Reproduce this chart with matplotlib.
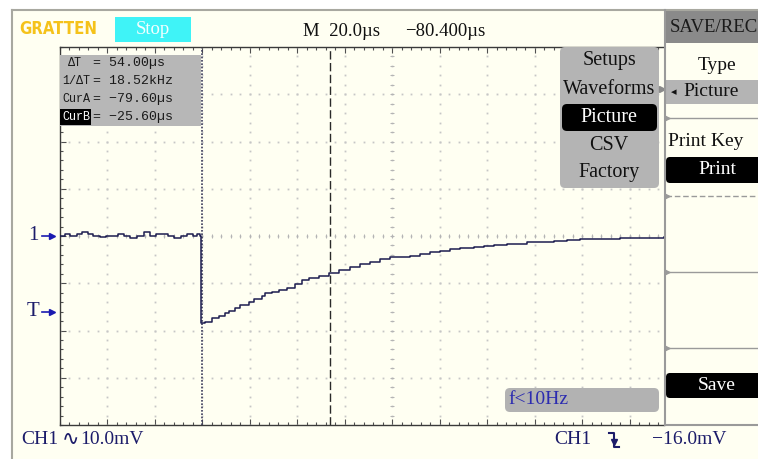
import matplotlib
matplotlib.use('Agg')
import matplotlib.pyplot as plt
import numpy as np
from matplotlib.patches import Rectangle, FancyBboxPatch
from matplotlib.ticker import FixedLocator
import matplotlib.transforms as mtransforms

# CH1 trace: time in us, level in mV
base_t = [-139.6, -137.2, -135.0, -132.4, -130.2, -127.8, -125.4, -122.6, -120.0, -117.4,
          -115.0, -112.6, -109.8, -107.0, -104.2, -101.6, -99.0, -96.4, -93.8, -91.2,
          -88.6, -86.0, -83.4, -81.6, -80.3]
base_v = [0.0, 0.4, 0.0, 0.4, 0.8, 0.4, 0.0, -0.2, 0.0, 0.0,
          0.4, 0.0, -0.4, 0.0, 0.8, 0.0, 0.4, 0.4, 0.0, -0.4,
          0.0, 0.4, 0.0, 0.4, 0.0]
decay_t = [-79.9, -78.2, -75.4, -72.6, -69.8, -68.4, -65.6, -63.5, -60.0, -57.9,
           -54.3, -52.9, -50.1, -47.4, -43.8, -40.3, -37.5, -34.7, -30.5, -26.3,
           -22.1, -17.2, -13.0, -8.8, -4.6, -0.4, 3.9, 8.1, 12.3, 16.5,
           20.7, 24.9, 29.1, 34.7, 38.9, 43.1, 48.8, 51.5, 57.2, 62.8,
           68.4, 74.0, 79.6, 85.2, 90.9, 96.4, 102.1, 107.7, 114.7]
decay_v = [-18.5, -18.1, -17.4, -16.9, -16.4, -15.9, -15.3, -14.6, -13.9, -13.4,
           -12.8, -12.1, -11.8, -11.4, -10.9, -10.2, -9.3, -8.8, -8.5, -7.9,
           -7.3, -6.5, -5.9, -5.4, -4.9, -4.5, -4.4, -4.2, -3.8, -3.4,
           -3.2, -2.8, -2.6, -2.3, -2.1, -1.9, -1.7, -1.7, -1.3, -1.2,
           -1.0, -0.8, -0.7, -0.6, -0.6, -0.5, -0.4, -0.4, -0.2]

time_div = 20.0     # us/div
volt_div = 10.0     # mV/div
h_pos = -80.4       # us
cursor_a = -79.6    # us
cursor_b = -25.6    # us
trig_level = -16.0  # mV
menu_items = ['Setups', 'Waveforms', 'Picture', 'CSV', 'Factory']
selected = 'Picture'

W, H = 758, 459
cream = '#fffff2'
navy = '#1c1c6a'
grey_box = '#b7b7b7'
serif = ['Liberation Serif', 'DejaVu Sans']
mono = ['Liberation Mono', 'DejaVu Sans Mono']


def minus(s):
    return s.replace('-', '\u2212')


fig = plt.figure(figsize=(W / 100, H / 100), dpi=100)
fig.patch.set_facecolor(cream)

# scope screen: 59.5..664 px across, 47..425 px down
ax = fig.add_axes([59.5 / W, (H - 425) / H, 604.5 / W, 378 / H], zorder=1)
ax.set_facecolor(cream)
px_per_us = 2.376
t_left = cursor_a - 3 * time_div
t_right = t_left + 604.5 / px_per_us
ax.set_xlim(t_left, t_right)
ax.set_ylim(-4 * volt_div, 4 * volt_div)

grid_t = cursor_a + time_div * np.arange(-2, 10)
grid_v = volt_div * np.arange(-3, 4)
minor_t = np.arange(t_left, t_right, time_div / 5)
minor_v = np.arange(-4 * volt_div, 4 * volt_div + 0.1, volt_div / 5)

for gt in grid_t:
    ax.plot(np.full(minor_v.size, gt), minor_v, ls='none', marker='s', ms=1.3, mew=0, color='#c6c6c6')
for gv in grid_v:
    ax.plot(minor_t, np.full(minor_t.size, gv), ls='none', marker='s', ms=1.3, mew=0, color='#c6c6c6')
# centre axes carry small ticks
ax.plot(minor_t, np.zeros(minor_t.size), ls='none', marker='|', ms=3.5, mew=0.7, color='#b4b4b4')
ax.plot(np.full(minor_v.size, cursor_a + 4 * time_div), minor_v, ls='none', marker='_', ms=3.5, mew=0.7, color='#b4b4b4')

ax.xaxis.set_major_locator(FixedLocator(grid_t))
ax.xaxis.set_minor_locator(FixedLocator(minor_t))
ax.yaxis.set_major_locator(FixedLocator(grid_v))
ax.yaxis.set_minor_locator(FixedLocator(minor_v))
ax.tick_params(which='both', direction='in', top=True, right=False,
               labelbottom=False, labelleft=False, color='#505050', width=0.8)
ax.tick_params(which='major', length=4)
ax.tick_params(which='minor', length=2.5)
for s in ax.spines.values():
    s.set_color('#3a3a3a')
    s.set_linewidth(1)
ax.spines['right'].set_visible(False)

# cursors and trace
ax.axvline(cursor_a, color='#3c3c5c', lw=1.2, ls=(0, (1, 1)), zorder=2)
ax.axvline(cursor_b, color='#2a2a2a', lw=1.0, ls=(0, (6, 2.5)), zorder=2)
ax.plot(base_t + decay_t, base_v + decay_v, drawstyle='steps-post', color='#1d1d50', lw=1.1, zorder=3)

# overlay in pixel coordinates for the scope's menus and readouts
ov = fig.add_axes([0, 0, 1, 1], zorder=2)
ov.set_autoscale_on(False)
ov.set_xlim(0, W)
ov.set_ylim(H, 0)
ov.axis('off')


def rect(x0, y0, x1, y1, fc, r=0):
    if r:
        p = FancyBboxPatch((x0 + r, y0 + r), x1 - x0 - 2 * r, y1 - y0 - 2 * r,
                           boxstyle=f'round,pad={r}', fc=fc, ec='none')
    else:
        p = Rectangle((x0, y0), x1 - x0, y1 - y0, fc=fc, ec='none')
    ov.add_patch(p)


def label(x, y, s, size=14, color='#111111', ha='left', fam=serif, **kw):
    ov.text(x, y, s, fontsize=size, color=color, ha=ha, va='center', family=fam, **kw)


# outer frame
rect(0, 0, W, 9.5, 'white')
rect(0, 0, 11.5, H, 'white')
ov.plot([12, W], [9.5, 9.5], color='#a8a8a0', lw=1.5)
ov.plot([12, 12], [9.5, H], color='#a8a8a0', lw=1.5)

# top bar
label(19, 29, 'GRATTEN', size=12, color='#f5c21a', fam=['DejaVu Sans'],
      fontweight='bold', fontstretch='condensed')
rect(115, 17, 191, 42, '#3ff3f7')
label(153, 30, 'Stop', size=13.5, color='#f4ffff', ha='center')
label(303, 31, f'M  {time_div:.1f}\u00b5s', size=13.5)
label(405, 31, minus(f'{h_pos:.3f}\u00b5s'), size=13.5)

# cursor readout
dt = cursor_b - cursor_a
rect(60, 55, 201, 126, grey_box)
rows = [('\u0394T', 68, f'= {dt:.2f}\u00b5s', 63),
        ('1/\u0394T', 62, f'= {1e3 / dt:.2f}kHz', 81),
        ('CurA', 62, minus(f'= {cursor_a:.2f}\u00b5s'), 99),
        ('CurB', 62, minus(f'= {cursor_b:.2f}\u00b5s'), 117)]
rect(60, 109, 91, 125, 'black')
for name, x, val, y in rows:
    label(x, y, name, size=8.5, fam=mono, color='white' if name == 'CurB' else '#1a1a1a')
    label(93, y, val, size=9.5, fam=mono, color='#1a1a1a')

# save sub-menu
rect(560, 47, 659, 188, '#b4b4b4', r=5)
for i, item in enumerate(menu_items):
    y = 61 + 28 * i
    if item == selected:
        rect(562, y - 13, 657, y + 14, 'black', r=5)
        label(609, y, item, size=14.5, color='white', ha='center')
    else:
        label(609, y, item, size=14.5, ha='center')
ov.plot(662, 89, marker='>', ms=4, color='#8a8a8a')

# trigger frequency
rect(505, 388, 659, 412, '#b2b2b2', r=5)
label(508, 400, 'f<10Hz', size=14, color='#2b2bb0')

# right soft-key panel
ov.plot([665, 665], [10, 425], color='#9a9a9a', lw=1.5)
ov.plot([665, W], [425, 425], color='#9a9a9a', lw=1.5)
rect(666, 10, W, 43, '#8a8a8a')
label(670, 28, 'SAVE/REC', size=13.5, color='#1a1a1a')
label(717, 65, 'Type', size=14, ha='center')
rect(666, 80, W, 104, '#b4b4b4')
label(671, 92, '\u25c2', size=8, fam=['DejaVu Sans'])
label(683, 92, 'Picture', size=14)
label(668, 141, 'Print Key', size=14)
rect(666, 157, W + 6, 183, 'black', r=4)
label(717, 170, 'Print', size=14, color='white', ha='center')
for y, ls in [(118, '-'), (196, (0, (4, 2))), (272, '-'), (348, '-')]:
    ov.plot([666, W], [y, y], color='#9a9a9a', lw=1, ls=ls)
    ov.plot(667, y, marker='>', ms=3.5, color='#9a9a9a')
rect(666, 373, W + 6, 398, 'black', r=4)
label(717, 386, 'Save', size=14, color='white', ha='center')

# channel and trigger level markers, placed on the screen's mV scale
trans = mtransforms.blended_transform_factory(ov.transData, ax.transData)
for txt, lev in [('1', 0.0), ('T', trig_level)]:
    ov.text(33, lev, txt, transform=trans, fontsize=15, color=navy, ha='center', va='center', family=serif)
    ov.plot([42, 51], [lev, lev], transform=trans, color='#1a1ab0', lw=1.2)
    ov.plot(52, lev, transform=trans, marker='>', ms=5, color='#1a1ab0')

# bottom status line
label(21, 440, 'CH1', size=14, color=navy)
label(62, 439, '\u223f', size=15, color=navy, fam=['DejaVu Sans'])
label(80, 440, f'{volt_div:.1f}mV', size=14, color=navy)
label(554, 440, 'CH1', size=14, color=navy)
ov.plot([609, 614, 614, 619], [433, 433, 447, 447], color=navy, lw=1.5)
ov.plot(614, 442, marker='v', ms=5, color=navy)
label(652, 440, minus(f'{trig_level:.1f}mV'), size=14, color=navy)

fig.savefig('out.png', dpi=100, facecolor=fig.get_facecolor())
